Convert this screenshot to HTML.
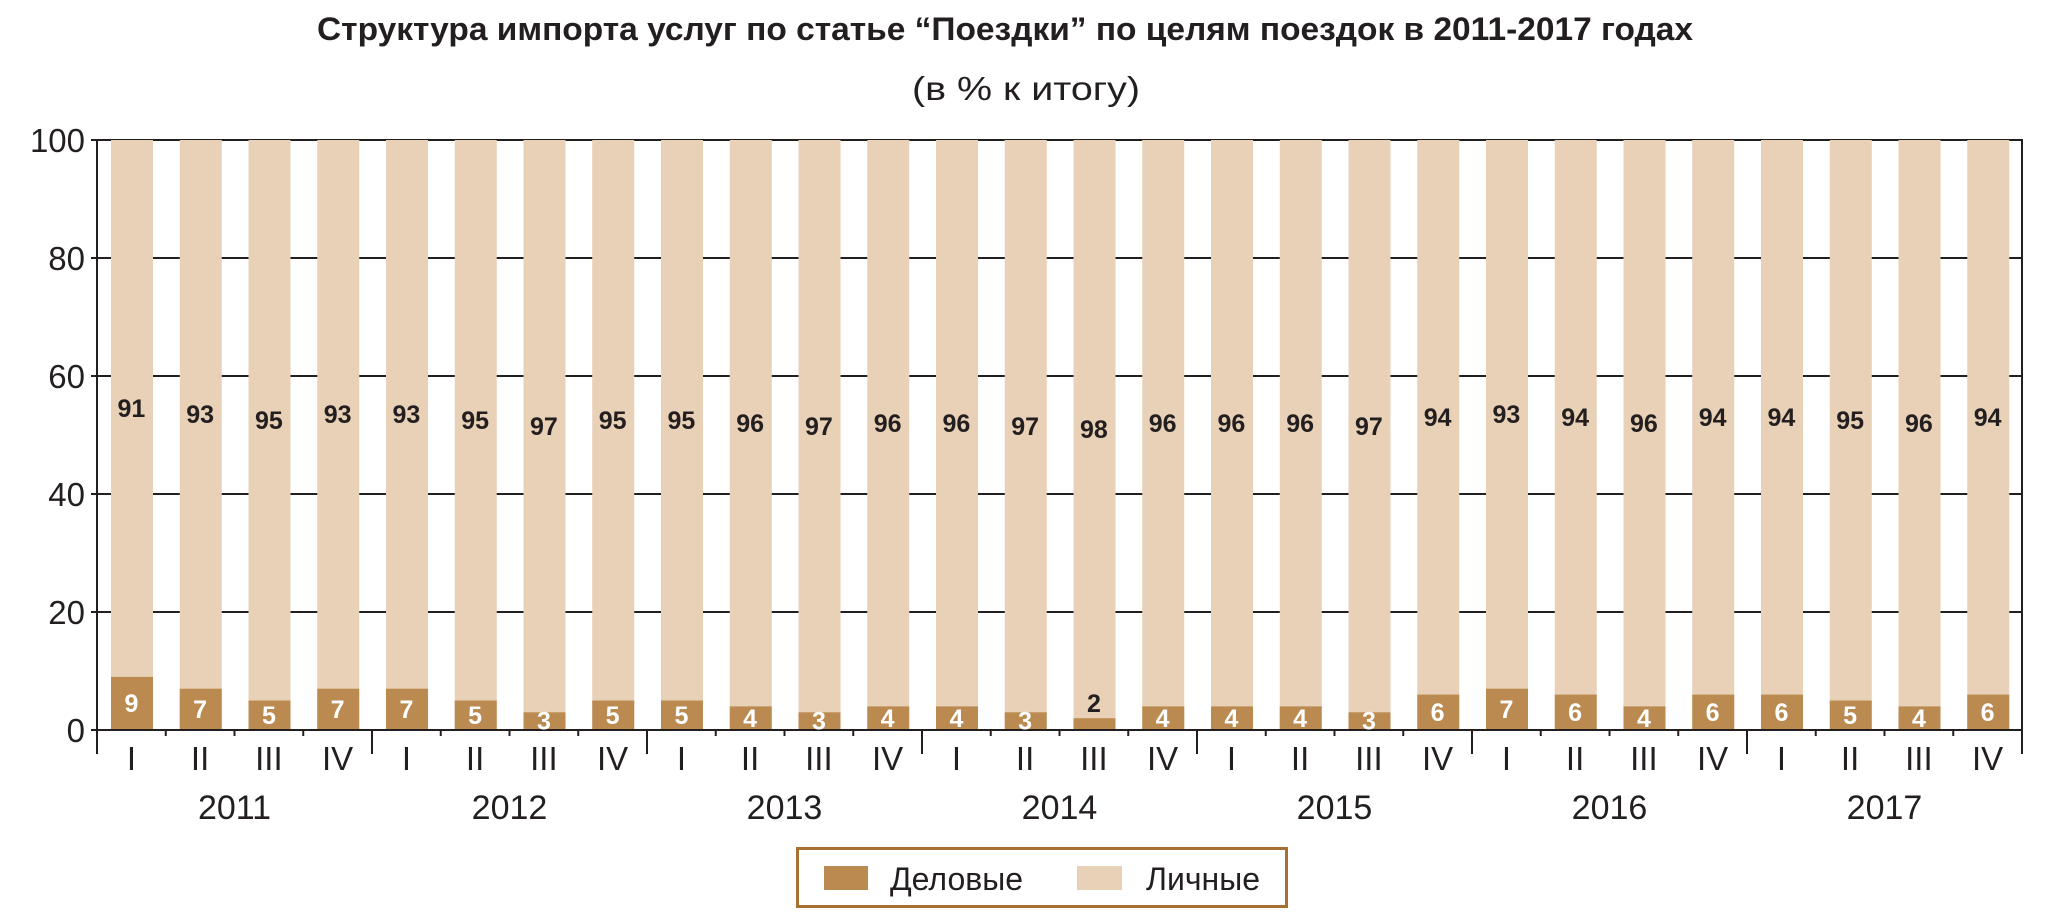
<!DOCTYPE html>
<html><head><meta charset="utf-8"><style>html,body{margin:0;padding:0;background:#fff}svg{display:block}</style></head><body>
<svg width="2069" height="922" viewBox="0 0 2069 922" xmlns="http://www.w3.org/2000/svg">
<rect width="2069" height="922" fill="#fff"/>
<text x="317" y="40" font-family="Liberation Sans Narrow, Liberation Sans, sans-serif" font-weight="bold" font-size="32" fill="#231f20" textLength="1376" lengthAdjust="spacingAndGlyphs">Структура импорта услуг по статье “Поездки” по целям поездок в 2011-2017 годах</text>
<text x="912" y="100" font-family="Liberation Sans Narrow, Liberation Sans, sans-serif" font-size="33" fill="#231f20" textLength="228" lengthAdjust="spacingAndGlyphs">(в % к итогу)</text>
<g stroke="#231f20" stroke-width="2">
<line x1="91" y1="140" x2="2022" y2="140"/><line x1="91" y1="258" x2="2022" y2="258"/><line x1="91" y1="376" x2="2022" y2="376"/><line x1="91" y1="494" x2="2022" y2="494"/><line x1="91" y1="612" x2="2022" y2="612"/><line x1="91" y1="730" x2="2022" y2="730"/>
</g>
<g fill="#e8d1b6">
<rect x="111" y="140" width="42" height="590"/><rect x="179.75" y="140" width="42" height="590"/><rect x="248.5" y="140" width="42" height="590"/><rect x="317.25" y="140" width="42" height="590"/><rect x="386" y="140" width="42" height="590"/><rect x="454.75" y="140" width="42" height="590"/><rect x="523.5" y="140" width="42" height="590"/><rect x="592.25" y="140" width="42" height="590"/><rect x="661" y="140" width="42" height="590"/><rect x="729.75" y="140" width="42" height="590"/><rect x="798.5" y="140" width="42" height="590"/><rect x="867.25" y="140" width="42" height="590"/><rect x="936" y="140" width="42" height="590"/><rect x="1004.75" y="140" width="42" height="590"/><rect x="1073.5" y="140" width="42" height="590"/><rect x="1142.25" y="140" width="42" height="590"/><rect x="1211" y="140" width="42" height="590"/><rect x="1279.75" y="140" width="42" height="590"/><rect x="1348.5" y="140" width="42" height="590"/><rect x="1417.25" y="140" width="42" height="590"/><rect x="1486" y="140" width="42" height="590"/><rect x="1554.75" y="140" width="42" height="590"/><rect x="1623.5" y="140" width="42" height="590"/><rect x="1692.25" y="140" width="42" height="590"/><rect x="1761" y="140" width="42" height="590"/><rect x="1829.75" y="140" width="42" height="590"/><rect x="1898.5" y="140" width="42" height="590"/><rect x="1967.25" y="140" width="42" height="590"/>
</g>
<g fill="#bb8a50">
<rect x="111" y="676.9" width="42" height="53.1"/><rect x="179.75" y="688.7" width="42" height="41.3"/><rect x="248.5" y="700.5" width="42" height="29.5"/><rect x="317.25" y="688.7" width="42" height="41.3"/><rect x="386" y="688.7" width="42" height="41.3"/><rect x="454.75" y="700.5" width="42" height="29.5"/><rect x="523.5" y="712.3" width="42" height="17.7"/><rect x="592.25" y="700.5" width="42" height="29.5"/><rect x="661" y="700.5" width="42" height="29.5"/><rect x="729.75" y="706.4" width="42" height="23.6"/><rect x="798.5" y="712.3" width="42" height="17.7"/><rect x="867.25" y="706.4" width="42" height="23.6"/><rect x="936" y="706.4" width="42" height="23.6"/><rect x="1004.75" y="712.3" width="42" height="17.7"/><rect x="1073.5" y="718.2" width="42" height="11.8"/><rect x="1142.25" y="706.4" width="42" height="23.6"/><rect x="1211" y="706.4" width="42" height="23.6"/><rect x="1279.75" y="706.4" width="42" height="23.6"/><rect x="1348.5" y="712.3" width="42" height="17.7"/><rect x="1417.25" y="694.6" width="42" height="35.4"/><rect x="1486" y="688.7" width="42" height="41.3"/><rect x="1554.75" y="694.6" width="42" height="35.4"/><rect x="1623.5" y="706.4" width="42" height="23.6"/><rect x="1692.25" y="694.6" width="42" height="35.4"/><rect x="1761" y="694.6" width="42" height="35.4"/><rect x="1829.75" y="700.5" width="42" height="29.5"/><rect x="1898.5" y="706.4" width="42" height="23.6"/><rect x="1967.25" y="694.6" width="42" height="35.4"/>
</g>
<g stroke="#231f20" stroke-width="2">
<line x1="91" y1="730" x2="2022" y2="730"/>
<line x1="97" y1="139" x2="97" y2="754"/><line x1="2022" y1="139" x2="2022" y2="754"/>
<line x1="372" y1="730" x2="372" y2="754"/><line x1="647" y1="730" x2="647" y2="754"/><line x1="922" y1="730" x2="922" y2="754"/><line x1="1197" y1="730" x2="1197" y2="754"/><line x1="1472" y1="730" x2="1472" y2="754"/><line x1="1747" y1="730" x2="1747" y2="754"/>
<line x1="165.75" y1="730" x2="165.75" y2="736"/><line x1="234.5" y1="730" x2="234.5" y2="736"/><line x1="303.25" y1="730" x2="303.25" y2="736"/>
<line x1="440.75" y1="730" x2="440.75" y2="736"/><line x1="509.5" y1="730" x2="509.5" y2="736"/><line x1="578.25" y1="730" x2="578.25" y2="736"/>
<line x1="715.75" y1="730" x2="715.75" y2="736"/><line x1="784.5" y1="730" x2="784.5" y2="736"/><line x1="853.25" y1="730" x2="853.25" y2="736"/>
<line x1="990.75" y1="730" x2="990.75" y2="736"/><line x1="1059.5" y1="730" x2="1059.5" y2="736"/><line x1="1128.25" y1="730" x2="1128.25" y2="736"/>
<line x1="1265.75" y1="730" x2="1265.75" y2="736"/><line x1="1334.5" y1="730" x2="1334.5" y2="736"/><line x1="1403.25" y1="730" x2="1403.25" y2="736"/>
<line x1="1540.75" y1="730" x2="1540.75" y2="736"/><line x1="1609.5" y1="730" x2="1609.5" y2="736"/><line x1="1678.25" y1="730" x2="1678.25" y2="736"/>
<line x1="1815.75" y1="730" x2="1815.75" y2="736"/><line x1="1884.5" y1="730" x2="1884.5" y2="736"/><line x1="1953.25" y1="730" x2="1953.25" y2="736"/>
</g>
<g font-family="Liberation Sans, sans-serif" font-size="33" fill="#231f20" text-anchor="end">
<text x="85" y="152">100</text><text x="85" y="270">80</text><text x="85" y="388">60</text><text x="85" y="506">40</text><text x="85" y="624">20</text><text x="85" y="742">0</text>
</g>
<g font-family="Liberation Sans, sans-serif" font-size="33" fill="#231f20" text-anchor="middle">
<text x="131.4" y="770">I</text><text x="200.1" y="770">II</text><text x="268.9" y="770">III</text><text x="337.6" y="770">IV</text>
<text x="406.4" y="770">I</text><text x="475.1" y="770">II</text><text x="543.9" y="770">III</text><text x="612.6" y="770">IV</text>
<text x="681.4" y="770">I</text><text x="750.1" y="770">II</text><text x="818.9" y="770">III</text><text x="887.6" y="770">IV</text>
<text x="956.4" y="770">I</text><text x="1025.1" y="770">II</text><text x="1093.9" y="770">III</text><text x="1162.6" y="770">IV</text>
<text x="1231.4" y="770">I</text><text x="1300.1" y="770">II</text><text x="1368.9" y="770">III</text><text x="1437.6" y="770">IV</text>
<text x="1506.4" y="770">I</text><text x="1575.1" y="770">II</text><text x="1643.9" y="770">III</text><text x="1712.6" y="770">IV</text>
<text x="1781.4" y="770">I</text><text x="1850.1" y="770">II</text><text x="1918.9" y="770">III</text><text x="1987.6" y="770">IV</text>
</g>
<g font-family="Liberation Sans, sans-serif" font-size="34" fill="#231f20" text-anchor="middle">
<text x="234.5" y="819">2011</text><text x="509.5" y="819">2012</text><text x="784.5" y="819">2013</text><text x="1059.5" y="819">2014</text><text x="1334.5" y="819">2015</text><text x="1609.5" y="819">2016</text><text x="1884.5" y="819">2017</text>
</g>
<g font-family="Liberation Sans, sans-serif" font-size="25" font-weight="bold" fill="#231f20" text-anchor="middle">
<text x="131.4" y="417">91</text><text x="200.1" y="423">93</text><text x="268.9" y="429">95</text><text x="337.6" y="423">93</text>
<text x="406.4" y="423">93</text><text x="475.1" y="429">95</text><text x="543.9" y="435">97</text><text x="612.6" y="429">95</text>
<text x="681.4" y="429">95</text><text x="750.1" y="432">96</text><text x="818.9" y="435">97</text><text x="887.6" y="432">96</text>
<text x="956.4" y="432">96</text><text x="1025.1" y="435">97</text><text x="1093.9" y="438">98</text><text x="1162.6" y="432">96</text>
<text x="1231.4" y="432">96</text><text x="1300.1" y="432">96</text><text x="1368.9" y="435">97</text><text x="1437.6" y="426">94</text>
<text x="1506.4" y="423">93</text><text x="1575.1" y="426">94</text><text x="1643.9" y="432">96</text><text x="1712.6" y="426">94</text>
<text x="1781.4" y="426">94</text><text x="1850.1" y="429">95</text><text x="1918.9" y="432">96</text><text x="1987.6" y="426">94</text>
<text x="1093.9" y="712">2</text>
</g>
<g font-family="Liberation Sans, sans-serif" font-size="25" font-weight="bold" fill="#fff" text-anchor="middle">
<text x="131.4" y="712">9</text><text x="200.1" y="718">7</text><text x="268.9" y="724">5</text><text x="337.6" y="718">7</text>
<text x="406.4" y="718">7</text><text x="475.1" y="724">5</text><text x="543.9" y="729.5">3</text><text x="612.6" y="724">5</text>
<text x="681.4" y="724">5</text><text x="750.1" y="727">4</text><text x="818.9" y="729.5">3</text><text x="887.6" y="727">4</text>
<text x="956.4" y="727">4</text><text x="1025.1" y="729.5">3</text><text x="1162.6" y="727">4</text>
<text x="1231.4" y="727">4</text><text x="1300.1" y="727">4</text><text x="1368.9" y="729.5">3</text><text x="1437.6" y="721">6</text>
<text x="1506.4" y="718">7</text><text x="1575.1" y="721">6</text><text x="1643.9" y="727">4</text><text x="1712.6" y="721">6</text>
<text x="1781.4" y="721">6</text><text x="1850.1" y="724">5</text><text x="1918.9" y="727">4</text><text x="1987.6" y="721">6</text>
</g>
<rect x="797.5" y="848.5" width="489" height="58" fill="none" stroke="#a87030" stroke-width="3"/>
<rect x="824" y="866" width="44" height="24" fill="#bb8a50"/>
<rect x="1077" y="866" width="45" height="24" fill="#e8d1b6"/>
<g font-family="Liberation Sans, sans-serif" font-size="32" fill="#231f20">
<text x="890" y="890">Деловые</text><text x="1146" y="890">Личные</text>
</g>
</svg>
</body></html>
